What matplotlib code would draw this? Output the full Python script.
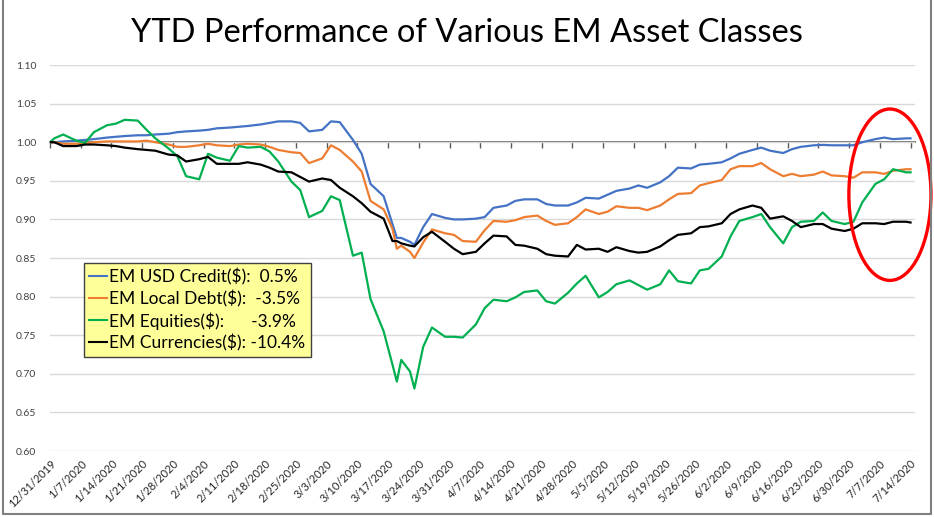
import matplotlib
matplotlib.use('Agg')
import matplotlib.pyplot as plt
from matplotlib.patches import Ellipse
from matplotlib.lines import Line2D
from matplotlib.ticker import FormatStrFormatter
import numpy as np
import pandas as pd

plt.rcParams['font.family'] = ['Lato', 'DejaVu Sans']

# dates of the readings (roughly Mon/Wed/Fri)
dates = ['2019-12-31', '2020-01-01', '2020-01-03', '2020-01-06', '2020-01-08', '2020-01-10',
         '2020-01-13', '2020-01-15', '2020-01-17', '2020-01-20', '2020-01-22', '2020-01-24',
         '2020-01-27', '2020-01-29', '2020-01-31', '2020-02-03', '2020-02-05', '2020-02-07',
         '2020-02-10', '2020-02-12', '2020-02-14', '2020-02-17', '2020-02-19', '2020-02-21',
         '2020-02-24', '2020-02-26', '2020-02-28', '2020-03-02', '2020-03-04', '2020-03-06',
         '2020-03-09', '2020-03-11', '2020-03-13', '2020-03-16', '2020-03-18', '2020-03-19',
         '2020-03-20', '2020-03-22', '2020-03-23', '2020-03-25', '2020-03-27', '2020-03-30',
         '2020-04-01', '2020-04-03', '2020-04-06', '2020-04-08', '2020-04-10', '2020-04-13',
         '2020-04-15', '2020-04-17', '2020-04-20', '2020-04-22', '2020-04-24', '2020-04-27',
         '2020-04-29', '2020-05-01', '2020-05-04', '2020-05-06', '2020-05-08', '2020-05-11',
         '2020-05-13', '2020-05-15', '2020-05-18', '2020-05-20', '2020-05-22', '2020-05-25',
         '2020-05-27', '2020-05-29', '2020-06-01', '2020-06-03', '2020-06-05', '2020-06-08',
         '2020-06-10', '2020-06-12', '2020-06-15', '2020-06-17', '2020-06-19', '2020-06-22',
         '2020-06-24', '2020-06-26', '2020-06-29', '2020-07-01', '2020-07-03', '2020-07-06',
         '2020-07-08', '2020-07-10', '2020-07-13', '2020-07-14']

usd_credit = [1.000, 1.000, 1.001, 1.002, 1.003, 1.004, 1.006, 1.007, 1.008, 1.009, 1.009, 1.010,
              1.011, 1.013, 1.014, 1.015, 1.016, 1.018, 1.019, 1.020, 1.021, 1.023, 1.025, 1.027,
              1.027, 1.025, 1.014, 1.016, 1.027, 1.026, 1.003, 0.985, 0.946, 0.930, 0.894, 0.876,
              0.876, 0.871, 0.867, 0.890, 0.907, 0.902, 0.900, 0.900, 0.901, 0.903, 0.915, 0.918,
              0.924, 0.926, 0.926, 0.920, 0.918, 0.918, 0.922, 0.928, 0.927, 0.932, 0.937, 0.940,
              0.944, 0.941, 0.948, 0.956, 0.967, 0.966, 0.971, 0.972, 0.974, 0.979, 0.985, 0.990,
              0.993, 0.989, 0.986, 0.991, 0.994, 0.996, 0.9965, 0.996, 0.996, 0.996, 1.000, 1.004,
              1.006, 1.004, 1.005, 1.005]

local_debt = [1.000, 1.000, 0.998, 0.998, 0.998, 1.000, 1.001, 1.001, 1.001, 1.001, 1.002, 1.000,
              0.997, 0.994, 0.994, 0.996, 0.998, 0.996, 0.995, 0.997, 0.998, 0.997, 0.994, 0.990,
              0.987, 0.986, 0.973, 0.979, 0.996, 0.990, 0.975, 0.962, 0.924, 0.913, 0.888, 0.862,
              0.866, 0.858, 0.850, 0.870, 0.887, 0.882, 0.880, 0.872, 0.871, 0.886, 0.898, 0.897,
              0.899, 0.903, 0.905, 0.898, 0.893, 0.895, 0.903, 0.913, 0.907, 0.910, 0.917, 0.915,
              0.915, 0.912, 0.918, 0.926, 0.933, 0.934, 0.944, 0.947, 0.951, 0.965, 0.969, 0.969,
              0.973, 0.965, 0.956, 0.959, 0.956, 0.958, 0.962, 0.957, 0.956, 0.954, 0.961, 0.961,
              0.959, 0.963, 0.965, 0.965]

equities = [1.000, 1.005, 1.010, 1.002, 0.999, 1.013, 1.022, 1.024, 1.029, 1.028, 1.016, 1.005,
            0.992, 0.982, 0.956, 0.952, 0.985, 0.980, 0.976, 0.995, 0.993, 0.994, 0.988, 0.975,
            0.949, 0.938, 0.903, 0.911, 0.930, 0.925, 0.853, 0.857, 0.797, 0.755, 0.712, 0.690,
            0.718, 0.703, 0.681, 0.735, 0.760, 0.748, 0.748, 0.747, 0.764, 0.785, 0.796, 0.794,
            0.799, 0.806, 0.808, 0.794, 0.791, 0.805, 0.817, 0.827, 0.799, 0.806, 0.816, 0.821,
            0.815, 0.809, 0.816, 0.834, 0.820, 0.817, 0.834, 0.836, 0.852, 0.878, 0.898, 0.903,
            0.907, 0.890, 0.869, 0.890, 0.897, 0.898, 0.909, 0.898, 0.894, 0.897, 0.922, 0.946,
            0.952, 0.965, 0.961, 0.961]

currencies = [1.000, 1.000, 0.995, 0.995, 0.997, 0.997, 0.996, 0.995, 0.993, 0.991, 0.990, 0.989,
              0.984, 0.983, 0.975, 0.978, 0.981, 0.972, 0.972, 0.972, 0.974, 0.971, 0.967, 0.962,
              0.961, 0.955, 0.949, 0.953, 0.951, 0.941, 0.930, 0.921, 0.910, 0.901, 0.872, 0.872,
              0.869, 0.866, 0.865, 0.877, 0.884, 0.871, 0.862, 0.855, 0.858, 0.869, 0.879, 0.878,
              0.867, 0.866, 0.862, 0.855, 0.853, 0.852, 0.867, 0.861, 0.862, 0.858, 0.864, 0.859,
              0.857, 0.858, 0.865, 0.873, 0.880, 0.882, 0.890, 0.891, 0.895, 0.907, 0.913, 0.918,
              0.915, 0.901, 0.904, 0.898, 0.890, 0.894, 0.894, 0.888, 0.885, 0.888, 0.895, 0.895,
              0.894, 0.897, 0.897, 0.896]

legend_labels = ['EM USD Credit($):  0.5%',
                 'EM Local Debt($):  -3.5%',
                 'EM Equities($):      -3.9%',
                 'EM Currencies($): -10.4%']
colors = ['#4472C4', '#ED7D31', '#00B050', '#000000']

x = pd.to_datetime(dates)
start = pd.Timestamp('2019-12-31')
ticks = pd.date_range('2019-12-31', '2020-07-14', freq='7D')
tick_labels = [f'{t.month}/{t.day}/{t.year}' for t in ticks]

fig = plt.figure(figsize=(9.34, 5.18), dpi=100)
ax = fig.add_axes([0.0535, 0.1293, 0.9261, 0.7452])

for ys, c, lab in zip([usd_credit, local_debt, equities, currencies], colors, legend_labels):
    ax.plot(x, ys, color=c, lw=1.6, label=lab, zorder=3)

ax.set_ylim(0.60, 1.10)
ax.set_yticks(np.arange(0.60, 1.101, 0.05))
ax.yaxis.set_major_formatter(FormatStrFormatter('%.2f'))
ax.set_xlim(start, start + pd.Timedelta(days=197))
ax.grid(axis='y', color='#d9d9d9', lw=1, zorder=0)
ax.set_axisbelow(True)
for s in ax.spines.values():
    s.set_visible(False)
ax.tick_params(axis='y', length=0, labelsize=7.5, labelcolor='#404040', pad=10)
ax.set_xticks(ticks)
ax.set_xticklabels(tick_labels, rotation=45, ha='right', rotation_mode='anchor',
                   fontsize=8, color='#262626')
ax.tick_params(axis='x', length=0, pad=5)

# horizontal axis crossing at 1.00 with tick marks
sec = ax.secondary_xaxis(0.8)
sec.set_alignment('bottom')
sec.set_xticks(ticks)
sec.set_xticklabels([])
sec.tick_params(axis='x', length=4, width=1, color='#595959', direction='out')
sec.spines['bottom'].set_color('#595959')
sec.spines['bottom'].set_linewidth(1.2)

leg = ax.legend(loc='upper left', bbox_to_anchor=(84 / 934, 1 - 263 / 518),
                bbox_transform=fig.transFigure, borderaxespad=0, fontsize=12.5,
                frameon=True, fancybox=False, facecolor='#FFFF99', edgecolor='#404040',
                framealpha=1, handlelength=1.0, handletextpad=0.15, labelspacing=0.28,
                borderpad=0.3)
leg.get_frame().set_linewidth(1.0)
for line in leg.get_lines():
    line.set_linewidth(1.5)

# red highlight ellipse
ell = Ellipse((start + pd.Timedelta(days=191.3), 0.932), width=18.7, height=0.222,
              fill=False, edgecolor='#FF0000', lw=2.4, clip_on=False, zorder=5)
ax.add_patch(ell)

fig.text(0.5, 1 - 33 / 518, 'YTD Performance of Various EM Asset Classes',
         ha='center', va='center', fontsize=23.5, color='#000000')

# outer frame
fig.add_artist(Line2D([3 / 934, 3 / 934, 931 / 934, 931 / 934],
                      [1.0, 1 - 514 / 518, 1 - 514 / 518, 1.0],
                      transform=fig.transFigure, color='#7f7f7f', lw=1.5))

fig.savefig('out.png', dpi=100)
